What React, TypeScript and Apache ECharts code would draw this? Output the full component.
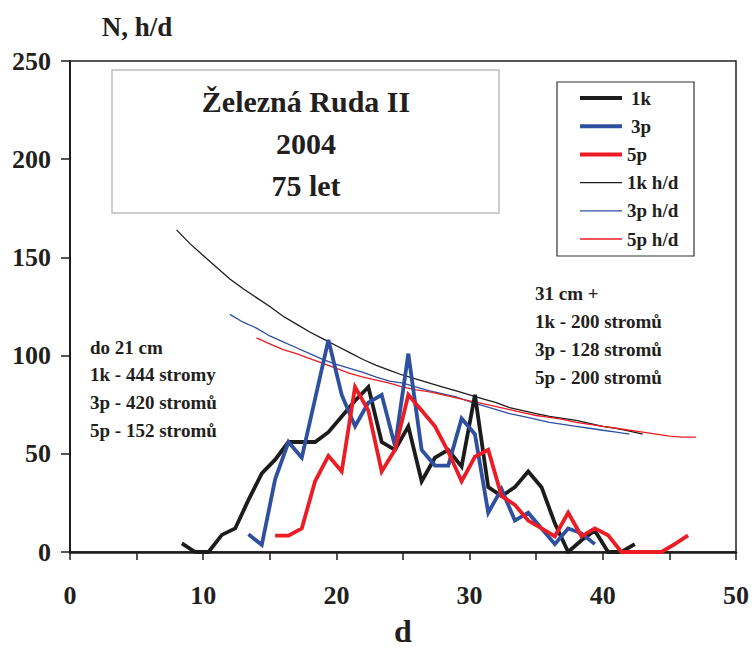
import React, { useEffect, useRef } from "react";
import * as echarts from "echarts";

// ---- data ----
const d1k = [8.4, 9.4, 10.4, 11.4, 12.4, 13.4, 14.4, 15.4, 16.4, 17.4, 18.4, 19.4, 20.4, 21.4, 22.4, 23.4, 24.4, 25.4, 26.4, 27.4, 28.4, 29.4, 30.4, 31.4, 32.4, 33.4, 34.4, 35.4, 36.4, 37.4, 38.4, 39.4, 40.4, 41.4, 42.4];
const n1k = [4.4, 0, 0, 8.7, 12, 26.5, 40, 47, 56, 56, 56, 61, 69, 77, 84, 56, 52, 64, 36, 48, 52, 43.5, 80, 33, 28.5, 33, 41, 33, 14.6, 0, 6, 11, 0, 0, 4];

const d3p = [13.4, 14.4, 15.4, 16.4, 17.4, 18.4, 19.4, 20.4, 21.4, 22.4, 23.4, 24.4, 25.4, 26.4, 27.4, 28.4, 29.4, 30.4, 31.4, 32.4, 33.4, 34.4, 35.4, 36.4, 37.4, 38.4, 39.4];
const n3p = [9, 3.6, 37, 56, 48, 78, 108, 80, 64, 76, 80, 54, 101, 52, 44, 44, 68, 60, 20, 32, 16, 20, 12, 4, 12, 9.5, 4];

const d5p = [15.4, 16.4, 17.4, 18.4, 19.4, 20.4, 21.4, 22.4, 23.4, 24.4, 25.4, 26.4, 27.4, 28.4, 29.4, 30.4, 31.4, 32.4, 33.4, 34.4, 35.4, 36.4, 37.4, 38.4, 39.4, 40.4, 41.4, 42.4, 43.4, 44.4, 45.4, 46.4];
const n5p = [8.3, 8.3, 12, 36, 49, 41, 84, 72, 41, 52, 80, 72, 64, 51, 36, 48.5, 52, 28.5, 24, 16, 12, 8, 20, 8, 12, 8.5, 0, 0, 0, 0, 4, 8.5];

const dHd1k = [8, 9, 10, 11, 12, 13, 14, 15, 16, 17, 18, 19, 20, 21, 22, 23, 24, 25, 26, 27, 28, 29, 30, 31, 32, 33, 34, 35, 36, 37, 38, 39, 40, 41, 42, 43];
const hd1k = [164, 157, 151, 145, 139, 134, 129.5, 125, 120, 116, 112, 108.5, 105, 101.5, 98, 95, 92.5, 90, 88, 86, 84, 82, 80, 78, 76, 73.5, 72, 70.5, 69, 68, 67, 65.5, 64, 63, 61.5, 60];

const dHd3p = [12, 13, 14, 15, 16, 17, 18, 19, 20, 21, 22, 23, 24, 25, 26, 27, 28, 29, 30, 31, 32, 33, 34, 35, 36, 37, 38, 39, 40, 41, 42];
const hd3p = [121, 117, 114, 110, 107, 104, 101, 98, 95.5, 93.5, 91.5, 89, 87, 86, 84, 82, 80.5, 79, 76.5, 74.5, 72.5, 70.5, 69, 67.5, 66, 65, 64, 63, 62, 61, 60];

const dHd5p = [14, 15, 16, 17, 18, 19, 20, 21, 22, 23, 24, 25, 26, 27, 28, 29, 30, 31, 32, 33, 34, 35, 36, 37, 38, 39, 40, 41, 42, 43, 44, 45, 46, 47];
const hd5p = [109, 106, 103, 101, 98.5, 96, 93.5, 91, 89, 87.5, 86, 84, 82.5, 81.5, 80, 78.5, 77, 75.5, 74, 72.5, 71, 69.5, 68.5, 67.5, 66, 65, 64, 63, 62, 61, 60, 59, 58.5, 58.5];

const seriesNames = ["1k", "3p", "5p", "1k h/d", "3p h/d", "5p h/d"];
const titleLines = ["Železná Ruda II", "2004", "75 let"];
const leftNotes = ["do 21 cm", "1k - 444 stromy", "3p - 420 stromů", "5p - 152 stromů"];
const rightNotes = ["31 cm +", "1k - 200 stromů", "3p - 128 stromů", "5p - 200 stromů"];

const BLACK = "#1c1c1c";
const BLUE = "#2f4f9f";
const RED = "#ec1c24";
const FONT = "'Liberation Serif', 'Times New Roman', serif";
const TXT = "#231f20";

const zip = (xs: number[], ys: number[]) => xs.map((x, i) => [x, ys[i]]);

export default function App() {
  const ref = useRef<HTMLDivElement>(null);
  useEffect(() => {
    const chart = echarts.init(ref.current!, null, { renderer: "svg" });

    const lineSeries = (name: string, xs: number[], ys: number[], color: string, width: number, z: number) => ({
      name,
      type: "line",
      data: zip(xs, ys),
      symbol: "none",
      lineStyle: { color, width, join: "miter" },
      itemStyle: { color },
      z,
      silent: true,
    });

    const legendColors = [BLACK, BLUE, RED, BLACK, BLUE, RED];
    const legendWidths = [4, 4, 4, 1.3, 1.3, 1.3];
    const legendTextX = [631, 631, 627, 627, 627, 627];
    const legendEls: any[] = [
      {
        type: "rect",
        shape: { x: 557, y: 82, width: 137, height: 174 },
        style: { fill: "#fff", stroke: "#333", lineWidth: 1.2 },
        z: 10,
      },
    ];
    seriesNames.forEach((nm, i) => {
      const y = 98 + i * 28.2;
      legendEls.push({
        type: "line",
        shape: { x1: 580, y1: y, x2: 622, y2: y },
        style: { stroke: legendColors[i], lineWidth: legendWidths[i] },
        z: 11,
      });
      legendEls.push({
        type: "text",
        style: {
          text: nm,
          x: legendTextX[i],
          y,
          fontSize: 19,
          fontWeight: "bold",
          fontFamily: FONT,
          fill: TXT,
          textVerticalAlign: "middle",
          textAlign: "left",
        },
        z: 11,
      });
    });

    const titleEls: any[] = [
      {
        type: "rect",
        shape: { x: 112, y: 70, width: 387, height: 143 },
        style: { fill: "#fff", stroke: "#bdbdbd", lineWidth: 1.5 },
        z: 10,
      },
      ...titleLines.map((t, i) => ({
        type: "text",
        style: {
          text: t,
          x: 306,
          y: 101 + i * 42,
          fontSize: 30,
          fontWeight: "bold",
          fontFamily: FONT,
          fill: TXT,
          textAlign: "center",
          textVerticalAlign: "middle",
        },
        z: 11,
      })),
    ];

    const noteEls: any[] = [
      ...leftNotes.map((t, i) => ({
        type: "text",
        style: {
          text: t,
          x: 90,
          y: 347 + i * 27.8,
          fontSize: 19,
          fontWeight: "bold",
          fontFamily: FONT,
          fill: TXT,
          textAlign: "left",
          textVerticalAlign: "middle",
        },
        z: 11,
      })),
      ...rightNotes.map((t, i) => ({
        type: "text",
        style: {
          text: t,
          x: 535,
          y: 293 + i * 28.3,
          fontSize: 19,
          fontWeight: "bold",
          fontFamily: FONT,
          fill: TXT,
          textAlign: "left",
          textVerticalAlign: "middle",
        },
        z: 11,
      })),
      {
        type: "text",
        style: {
          text: "N, h/d",
          x: 137,
          y: 27,
          fontSize: 27,
          fontWeight: "bold",
          fontFamily: FONT,
          fill: TXT,
          textAlign: "center",
          textVerticalAlign: "middle",
        },
      },
      {
        type: "text",
        style: {
          text: "d",
          x: 403,
          y: 631,
          fontSize: 32,
          fontWeight: "bold",
          fontFamily: FONT,
          fill: TXT,
          textAlign: "center",
          textVerticalAlign: "middle",
        },
      },
    ];

    const option: any = {
      animation: false,
      backgroundColor: "#fff",
      grid: {
        left: 70,
        right: 14,
        top: 61,
        bottom: 97,
        show: true,
        borderColor: "#222",
        borderWidth: 1.5,
        backgroundColor: "transparent",
      },
      xAxis: {
        type: "value",
        min: 0,
        max: 50,
        interval: 5,
        axisLine: { show: true, onZero: false, lineStyle: { color: BLACK, width: 2.5 } },
        axisTick: { show: true, inside: false, length: 8, lineStyle: { color: BLACK, width: 1.5 } },
        axisLabel: {
          margin: 30,
          fontSize: 26,
          fontWeight: "bold",
          fontFamily: FONT,
          color: TXT,
          formatter: (v: number) => (v % 10 === 0 ? String(v) : ""),
        },
        splitLine: { show: false },
      },
      yAxis: {
        type: "value",
        min: 0,
        max: 250,
        interval: 50,
        axisLine: { show: true, lineStyle: { color: BLACK, width: 2 } },
        axisTick: { show: true, inside: false, length: 9, lineStyle: { color: BLACK, width: 1.5 } },
        axisLabel: {
          margin: 19,
          fontSize: 26,
          fontWeight: "bold",
          fontFamily: FONT,
          color: TXT,
        },
        splitLine: { show: false },
      },
      series: [
        lineSeries("1k h/d", dHd1k, hd1k, BLACK, 1.3, 2),
        lineSeries("3p h/d", dHd3p, hd3p, BLUE, 1.3, 2),
        lineSeries("5p h/d", dHd5p, hd5p, RED, 1.3, 2),
        lineSeries("1k", d1k, n1k, BLACK, 3.8, 3),
        lineSeries("3p", d3p, n3p, BLUE, 3.8, 3),
        lineSeries("5p", d5p, n5p, RED, 3.8, 3),
      ],
      graphic: [...titleEls, ...legendEls, ...noteEls],
    };

    chart.setOption(option);
    return () => chart.dispose();
  }, []);

  return (
    <div
      ref={ref}
      style={{ position: "fixed", left: 0, top: 0, width: 752, height: 649, background: "#fff" }}
    />
  );
}
